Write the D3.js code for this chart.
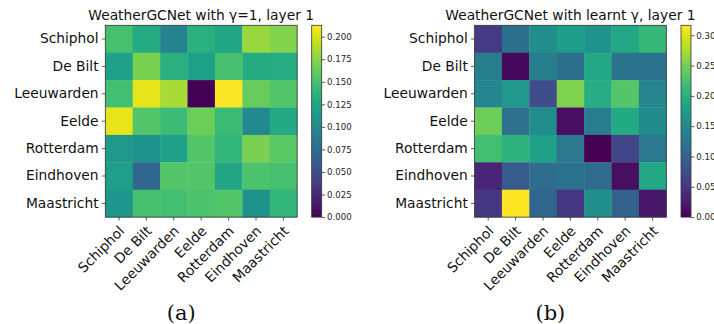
<!DOCTYPE html>
<html><head><meta charset="utf-8">
<script src="https://cdn.jsdelivr.net/npm/d3@7"></script>
<style>body{margin:0;background:#fff}svg{display:block}</style>
</head><body><svg id="c" width="714" height="324"></svg>
<script>
const stations = ["Schiphol","De Bilt","Leeuwarden","Eelde","Rotterdam","Eindhoven","Maastricht"];
const gammaOne = [
  [0.150,0.130,0.095,0.135,0.125,0.180,0.172],
  [0.120,0.170,0.135,0.122,0.150,0.130,0.132],
  [0.148,0.205,0.185,0.000,0.212,0.163,0.155],
  [0.205,0.155,0.145,0.165,0.145,0.100,0.128],
  [0.115,0.110,0.120,0.155,0.140,0.170,0.158],
  [0.118,0.070,0.155,0.155,0.125,0.152,0.150],
  [0.112,0.150,0.148,0.152,0.155,0.108,0.140]
];
const learntGamma = [
  [0.055,0.115,0.155,0.175,0.160,0.190,0.212],
  [0.135,0.008,0.135,0.115,0.190,0.120,0.120],
  [0.145,0.168,0.075,0.255,0.197,0.232,0.143],
  [0.245,0.117,0.155,0.012,0.133,0.192,0.153],
  [0.220,0.203,0.178,0.125,0.000,0.065,0.125],
  [0.033,0.090,0.110,0.118,0.110,0.012,0.190],
  [0.050,0.316,0.104,0.050,0.158,0.100,0.020]
];
const ticksA = [0,0.025,0.05,0.075,0.1,0.125,0.15,0.175,0.2];
const ticksB = [0,0.05,0.1,0.15,0.2,0.25,0.3];
const maxA = 0.2126, maxB = 0.3164;
const titles = ["WeatherGCNet with γ=1, layer 1","WeatherGCNet with learnt γ, layer 1"];
const captions = ["(a)","(b)"];

const svg = d3.select("#c");
const font = "DejaVu Sans";
const defs = svg.append("defs");

function panel(idx, data, maxV, ticks, fmt, x0, cbx) {
  const y0 = 25.3, size = 191.8;
  const x = d3.scaleBand().domain(stations).range([x0, x0+size]);
  const y = d3.scaleBand().domain(stations).range([y0, y0+size]);
  const color = d3.scaleSequential(d3.interpolateViridis).domain([0, maxV]);
  const g = svg.append("g");
  const cells = [];
  data.forEach((row,i)=>row.forEach((v,j)=>cells.push({r:stations[i],c:stations[j],v})));
  g.selectAll("rect.cell").data(cells).join("rect")
    .attr("x",d=>x(d.c)).attr("y",d=>y(d.r))
    .attr("width",x.bandwidth()+0.3).attr("height",y.bandwidth()+0.3)
    .attr("fill",d=>color(d.v));
  g.append("rect").attr("x",x0).attr("y",y0).attr("width",size).attr("height",size)
    .attr("fill","none").attr("stroke","#333").attr("stroke-width",0.8);
  // y axis
  const ya = g.append("g").attr("transform",`translate(${x0},0)`)
    .call(d3.axisLeft(y).tickSize(3.5).tickPadding(3.2));
  ya.select(".domain").remove();
  ya.selectAll("line").attr("stroke","#333").attr("stroke-width",0.8);
  ya.selectAll("text").attr("font-family",font).attr("font-size","13.8px").attr("fill","#111");
  // x axis
  const xa = g.append("g").attr("transform",`translate(0,${y0+size})`)
    .call(d3.axisBottom(x).tickSize(3.5).tickPadding(3));
  xa.select(".domain").remove();
  xa.selectAll("line").attr("stroke","#333").attr("stroke-width",0.8);
  xa.selectAll("text").attr("font-family",font).attr("font-size","13.8px").attr("fill","#111")
    .attr("text-anchor","end").attr("y",0).attr("dy",0)
    .attr("transform","translate(6.2,14.8) rotate(-45)");
  // title
  svg.append("text").attr("x",x0+size/2).attr("y",20).attr("text-anchor","middle")
    .attr("font-family",font).attr("font-size","13.8px").attr("fill","#111").text(titles[idx]);
  // colorbar
  const gid = "grad"+idx;
  const grad = defs.append("linearGradient").attr("id",gid)
    .attr("x1","0").attr("y1","1").attr("x2","0").attr("y2","0");
  d3.range(0,1.0001,0.05).forEach(t=>grad.append("stop").attr("offset",t).attr("stop-color",d3.interpolateViridis(t)));
  const cw = 10;
  svg.append("rect").attr("x",cbx).attr("y",y0).attr("width",cw).attr("height",size)
    .attr("fill",`url(#${gid})`).attr("stroke","#333").attr("stroke-width",0.8);
  const cs = d3.scaleLinear().domain([0,maxV]).range([y0+size,y0]);
  const ca = svg.append("g").attr("transform",`translate(${cbx+cw},0)`)
    .call(d3.axisRight(cs).tickValues(ticks).tickFormat(d3.format(fmt)).tickSize(3.5).tickPadding(1.8));
  ca.select(".domain").remove();
  ca.selectAll("line").attr("stroke","#333").attr("stroke-width",0.8);
  ca.selectAll("text").attr("font-family",font).attr("font-size","8.6px").attr("fill","#222");
  // caption
  svg.append("text").attr("x",x0+size/2-20).attr("y",320).attr("text-anchor","middle")
    .attr("font-family","DejaVu Serif").attr("font-size","21px").attr("fill","#111").text(captions[idx]);
}
panel(0, gammaOne, maxA, ticksA, ".3f", 105.3, 311.7);
panel(1, learntGamma, maxB, ticksB, ".2f", 474.5, 681);
</script></body></html>
